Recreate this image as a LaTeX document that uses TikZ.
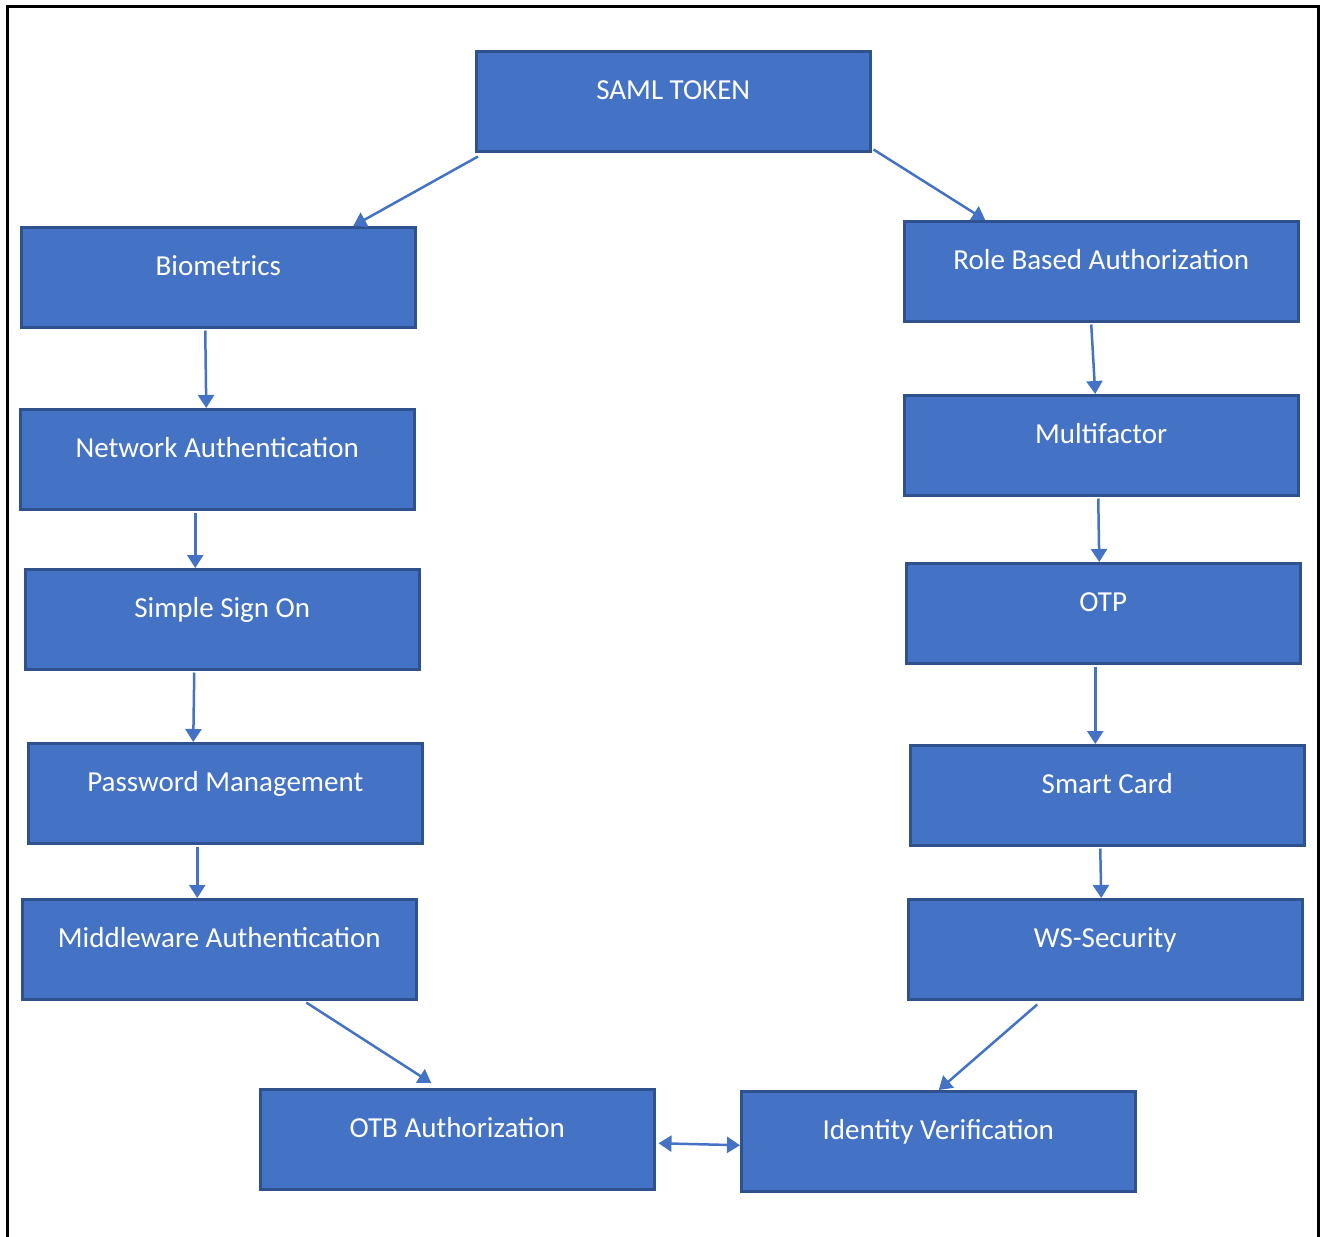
\documentclass[tikz,border=0pt]{standalone}
\usepackage{fontspec}
\setmainfont{Carlito}
\usetikzlibrary{arrows.meta}
\definecolor{boxfill}{HTML}{4472C4}
\definecolor{boxedge}{HTML}{2F528F}
\begin{document}
\begin{tikzpicture}[x=1pt,y=-1pt,
  stepbox/.style={draw=boxedge, line width=2.5pt, fill=boxfill, text=white,
    anchor=north west, minimum width=394pt, minimum height=100pt,
    inner xsep=0pt, inner ysep=0pt, text height=48pt, text depth=52pt,
    font=\fontsize{29}{34}\selectfont},
  conn/.style={draw=boxfill, line width=2.5pt,
    -{Triangle[length=13pt,width=16pt]}},
  conn2/.style={draw=boxfill, line width=2.5pt,
    {Triangle[length=13pt,width=16pt]}-{Triangle[length=13pt,width=16pt]}}]
\useasboundingbox (0,0) rectangle (1326,1237);
% frame
\draw[line width=3pt] (7,1240) -- (7,6) -- (1318,6) -- (1318,1240);
% boxes
\node[stepbox] (saml) at (475,50) {SAML TOKEN};
\node[stepbox] (bio) at (20,226) {Biometrics};
\node[stepbox] (net) at (19,408) {Network Authentication};
\node[stepbox] (sso) at (24,568) {Simple Sign On};
\node[stepbox] (pwd) at (27,742) {Password Management};
\node[stepbox] (mid) at (21,898) {Middleware Authentication};
\node[stepbox] (otb) at (259,1088) {OTB Authorization};
\node[stepbox] (idv) at (740,1090) {Identity Verification};
\node[stepbox] (rba) at (903,220) {Role Based Authorization};
\node[stepbox] (mfa) at (903,394) {Multifactor};
\node[stepbox] (otp) at (905,562) {OTP};
\node[stepbox] (card) at (909,744) {Smart Card};
\node[stepbox] (wss) at (907,898) {WS-Security};
% connectors
\draw[conn] ([xshift=3pt,yshift=-4pt]saml.south west) -- ([xshift=135pt]bio.north);
\draw[conn] ([xshift=2pt,yshift=3pt]saml.south east) -- ([xshift=-116pt]rba.north);
\draw[conn] ([xshift=-13pt,yshift=-2pt]bio.south) -- ([xshift=-11pt]net.north);
\draw[conn] ([xshift=-22pt,yshift=-2pt]net.south) -- ([xshift=-27pt]sso.north);
\draw[conn] ([xshift=-28pt,yshift=-2pt]sso.south) -- ([xshift=-32pt]pwd.north);
\draw[conn] ([xshift=-28pt,yshift=-2pt]pwd.south) -- ([xshift=-22pt]mid.north);
\draw[conn] ([xshift=87pt,yshift=-2pt]mid.south) -- ([xshift=-26pt,yshift=5pt]otb.north);
\draw[conn] ([xshift=-10pt,yshift=-2pt]rba.south) -- ([xshift=-6pt]mfa.north);
\draw[conn] ([xshift=-3pt,yshift=-2pt]mfa.south) -- ([xshift=-4pt]otp.north);
\draw[conn] ([xshift=-8pt,yshift=-2pt]otp.south) -- ([xshift=-12pt]card.north);
\draw[conn] ([xshift=-7pt,yshift=-2pt]card.south) -- ([xshift=-4pt]wss.north);
\draw[conn] ([xshift=-68pt,yshift=-4pt]wss.south) -- ([xshift=0.5pt]idv.north);
\draw[conn2] ([xshift=3pt,yshift=-4pt]otb.east) -- ([yshift=-4pt]idv.west);
\end{tikzpicture}
\end{document}
